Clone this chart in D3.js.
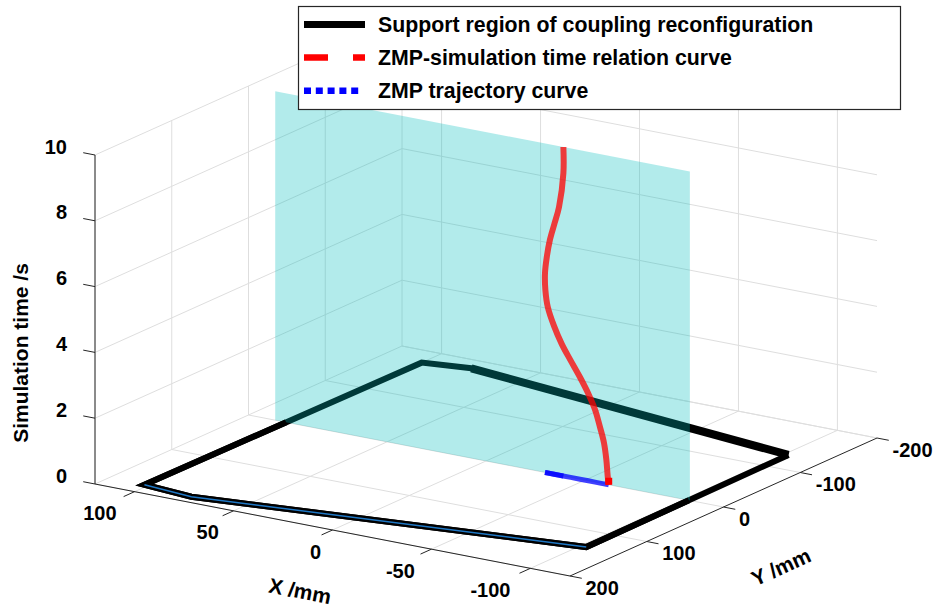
<!DOCTYPE html>
<html>
<head>
<meta charset="utf-8">
<script src="https://cdn.jsdelivr.net/npm/d3@7"></script>
<style>
  body { margin: 0; background: #fff; }
  text { font-family: "Liberation Sans", Arial, Helvetica, sans-serif; font-weight: bold; fill: #000; }
</style>
</head>
<body>
<div id="chart"></div>
<script>
// tick values of the three axes
const xTicks = [100, 50, 0, -50, -100];
const yTicks = [-200, -100, 0, 100, 200];
const zTicks = [0, 2, 4, 6, 8, 10];

// ZMP x (mm) against simulation time (s), y stays at 0
const simTime = [0, 0.25, 0.75, 1.25, 1.7, 2.2, 2.65, 3.1, 3.55, 4.0, 4.5, 5.05, 5.55, 6.05, 6.55, 7.1, 7.6, 8.15, 9.2, 10];
const zmpX = [-62, -61.5, -60.8, -59.6, -57.6, -55.1, -51.7, -47.5, -42.8, -38.3, -34.4, -31.2, -30.0, -29.8, -30.7, -32.3, -34.5, -36.9, -39.1, -39.1];

// outline of the support region on the floor (closed)
const supportX = [-102, 78, 100, 102, 76, -103, -102];
const supportY = [-131, -182, -174, 182, 188, 135, -131];

// translucent plane at y = 0
const planeX = [106.5, -103];
const planeZ = [0, 10];

const legendLabels = ["Support region of coupling reconfiguration", "ZMP-simulation time relation curve", "ZMP trajectory curve"];

const width = 937, height = 608;

let svg = d3.select("#chart")
    .append("svg")
    .attr("width", width)
    .attr("height", height);

svg.append("rect").attr("width", width).attr("height", height).attr("fill", "#fff");

// each axis goes to 0..1 along one edge of the box, then the box is laid out on screen
let x = d3.scaleLinear().domain([120, -120]).range([0, 1]);
let y = d3.scaleLinear().domain([200, -200]).range([0, 1]);
let z = d3.scaleLinear().domain([0, 10]).range([0, 1]);

const corner = [95, 484], ux = [475, 92], uy = [307, -138], uz = [0, -329];

function proj(px, py, pz) {
    const a = x(px), b = y(py), c = z(pz);
    return [corner[0] + a * ux[0] + b * uy[0] + c * uz[0],
            corner[1] + a * ux[1] + b * uy[1] + c * uz[1]];
}

let line = d3.line();

// grid
let grid = svg.append("g").attr("stroke", "#dedede").attr("stroke-width", 1).attr("fill", "none");
const xMin = x.domain()[1], xMax = x.domain()[0], yMin = y.domain()[1], yMax = y.domain()[0], zMax = z.domain()[1];

xTicks.forEach(t => {
    grid.append("path").attr("d", line([proj(t, yMin, 0), proj(t, yMax, 0)])); // floor
    grid.append("path").attr("d", line([proj(t, yMin, 0), proj(t, yMin, zMax)])); // back wall
});
yTicks.forEach(t => {
    grid.append("path").attr("d", line([proj(xMax, t, 0), proj(xMin, t, 0)]));
    grid.append("path").attr("d", line([proj(xMax, t, 0), proj(xMax, t, zMax)]));
});
zTicks.forEach(t => {
    grid.append("path").attr("d", line([proj(xMax, yMax, t), proj(xMax, yMin, t), proj(xMin, yMin, t)]));
});

// axis lines and tick marks
let axes = svg.append("g").attr("stroke", "#262626").attr("stroke-width", 1).attr("fill", "none");
axes.append("path").attr("d", line([proj(xMax, yMax, 0), proj(xMin, yMax, 0)]));
axes.append("path").attr("d", line([proj(xMin, yMax, 0), proj(xMin, yMin, 0)]));
axes.append("path").attr("d", line([proj(xMax, yMax, 0), proj(xMax, yMax, zMax)]));

function unit(v) { const n = Math.hypot(v[0], v[1]); return [v[0] / n, v[1] / n]; }
const dX = unit(ux), dY = unit(uy), tick = 12;

xTicks.forEach(t => {
    const p = proj(t, yMax, 0);
    axes.append("path").attr("d", line([p, [p[0] - dY[0] * tick, p[1] - dY[1] * tick]]));
});
yTicks.forEach(t => {
    const p = proj(xMin, t, 0);
    axes.append("path").attr("d", line([p, [p[0] + dX[0] * tick, p[1] + dX[1] * tick]]));
});
zTicks.forEach(t => {
    const p = proj(xMax, yMax, t);
    axes.append("path").attr("d", line([p, [p[0] - dX[0] * tick, p[1] - dX[1] * tick]]));
});

// support region
const support = supportX.map((d, i) => [d, supportY[i]]);
const toScreen = pts => pts.map(p => proj(p[0], p[1], 0));

svg.append("path")
    .attr("d", line(toScreen(support)))
    .attr("fill", "none").attr("stroke", "#000").attr("stroke-width", 6)
    .attr("stroke-linejoin", "miter");

svg.append("path") // the back and right edges look heavier
    .attr("d", line(toScreen(support.slice(0, 2))))
    .attr("fill", "none").attr("stroke", "#000").attr("stroke-width", 8);

// part of the outline in front of the plane (y >= 0)
function frontPart(pts) {
    const parts = [];
    let cur = null;
    for (let i = 0; i < pts.length - 1; i++) {
        const a = pts[i], b = pts[i + 1];
        const ina = a[1] >= 0, inb = b[1] >= 0;
        if (ina && !cur) cur = [a];
        if (ina !== inb) {
            const t = a[1] / (a[1] - b[1]);
            const p = [a[0] + t * (b[0] - a[0]), 0];
            if (ina) { cur.push(p); parts.push(cur); cur = null; }
            else cur = [p];
        }
        if (inb) cur.push(b);
    }
    if (cur) parts.push(cur);
    return parts;
}

// translucent plane
const plane = [[planeX[0], planeZ[0]], [planeX[1], planeZ[0]], [planeX[1], planeZ[1]], [planeX[0], planeZ[1]]];
svg.append("path")
    .attr("d", line(plane.map(p => proj(p[0], 0, p[1]))) + "Z")
    .attr("fill", "rgb(0,188,188)")
    .attr("fill-opacity", 0.3);

frontPart(support).forEach(part => {
    svg.append("path")
        .attr("d", line(toScreen(part)))
        .attr("fill", "none").attr("stroke", "#000").attr("stroke-width", 6)
        .attr("stroke-linejoin", "miter");
});

// thin blue line along the front edge
svg.append("path")
    .attr("d", line(toScreen(support.slice(3, 6))))
    .attr("fill", "none").attr("stroke", "#1f77c4").attr("stroke-width", 1.5);

// ZMP trajectory on the floor (drawn out and back, so the overlap is darker)
const turn = zmpX.indexOf(d3.max(zmpX));
[zmpX.slice(0, turn + 1), zmpX.slice(turn)].forEach(seg => {
    svg.append("path")
        .attr("d", line(seg.map(v => proj(v, 0, 0))))
        .attr("fill", "none").attr("stroke", "#0000ff").attr("stroke-width", 5)
        .attr("stroke-opacity", 0.75);
});

// ZMP against time
svg.append("path")
    .attr("d", d3.line().curve(d3.curveCatmullRom)(simTime.map((t, i) => proj(zmpX[i], 0, t))))
    .attr("fill", "none").attr("stroke", "#ff0000").attr("stroke-width", 6)
    .attr("stroke-opacity", 0.75);

const start = proj(zmpX[0], 0, simTime[0]);
svg.append("rect")
    .attr("x", start[0] - 3.5).attr("y", start[1] - 7)
    .attr("width", 7).attr("height", 7)
    .attr("fill", "#ff0000");

// tick labels
svg.selectAll(".xt").data(xTicks).join("text")
    .attr("class", "xt")
    .attr("font-size", 20)
    .attr("text-anchor", "end")
    .text(d => String(d))
    .each(function (d) {
        const p = proj(d, yMax, 0), w = this.getComputedTextLength();
        d3.select(this).attr("x", p[0] - 8 - 0.3 * w).attr("y", p[1] + 28.5);
    });

svg.selectAll(".yt").data(yTicks).join("text")
    .attr("class", "yt")
    .attr("font-size", 20)
    .attr("x", d => proj(xMin, d, 0)[0] + 15.5)
    .attr("y", d => proj(xMin, d, 0)[1] + 18.5)
    .text(d => String(d));

svg.selectAll(".zt").data(zTicks).join("text")
    .attr("class", "zt")
    .attr("font-size", 20)
    .attr("text-anchor", "end")
    .attr("x", d => proj(xMax, yMax, d)[0] - 28)
    .attr("y", d => proj(xMax, yMax, d)[1] - 1.5)
    .text(d => String(d));

// axis titles
svg.append("text")
    .attr("font-size", 21)
    .attr("text-anchor", "middle")
    .attr("transform", "translate(27.5,353) rotate(-90)")
    .text("Simulation time /s");

svg.append("text")
    .attr("font-size", 21)
    .attr("text-anchor", "middle")
    .attr("dy", "0.35em")
    .attr("transform", "translate(300,591) rotate(11)")
    .text("X /mm");

svg.append("text")
    .attr("font-size", 21)
    .attr("text-anchor", "middle")
    .attr("dy", "0.35em")
    .attr("transform", "translate(781,567) rotate(-24.2)")
    .text("Y /mm");

// legend
let legend = svg.append("g");
legend.append("rect")
    .attr("x", 298.5).attr("y", 6.5)
    .attr("width", 602).attr("height", 103)
    .attr("fill", "#fff").attr("stroke", "#262626").attr("stroke-width", 1.2);

const legendStyle = [
    { stroke: "#000", width: 7, dash: null, x2: 365 },
    { stroke: "#ff0000", width: 6.5, dash: "24,25", x2: 365 },
    { stroke: "#0000ff", width: 6.5, dash: "7,4.8", x2: 361 }
];

legendLabels.forEach((label, i) => {
    const cy = 24.5 + i * 33.1;
    legend.append("line")
        .attr("x1", 304).attr("x2", legendStyle[i].x2)
        .attr("y1", cy).attr("y2", cy)
        .attr("stroke", legendStyle[i].stroke)
        .attr("stroke-width", legendStyle[i].width)
        .attr("stroke-dasharray", legendStyle[i].dash);
    legend.append("text")
        .attr("x", 378).attr("y", cy + 7.6)
        .attr("font-size", 21.3)
        .text(label);
});
</script>
</body>
</html>
